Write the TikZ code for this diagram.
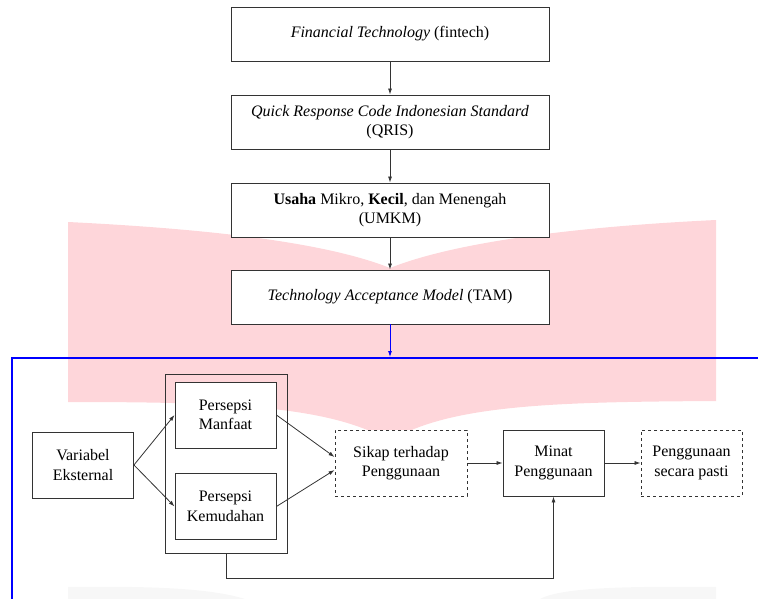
\documentclass[tikz,border=0pt]{standalone}
\usepackage{fontspec}
\setmainfont{Liberation Serif}
\usetikzlibrary{arrows.meta}
\definecolor{wmpink}{RGB}{254,214,218}

\begin{document}
\begin{tikzpicture}[x=1pt,y=-1pt,
    font=\fontsize{16}{19.5}\selectfont,
    >={Latex[length=6pt,width=4pt]},
    box/.style={rectangle,draw=black!80,fill=white,line width=0.9pt,align=center,inner sep=0pt},
    bigbox/.style={box,minimum width=318pt,minimum height=54pt},
    smallbox/.style={box,minimum width=101pt,minimum height=66pt},
    dashbox/.style={smallbox,dashed},
    link/.style={->,draw=black!80,line width=0.8pt}]
    \useasboundingbox (0,0) rectangle (758,599);
    % watermark behind the diagram
    \fill[wmpink] (68,222) .. controls (190,228) and (320,240) .. (390,268) .. controls (460,240) and (590,226) .. (716,220) -- (716,401) .. controls (560,402) and (450,404) .. (390,441) .. controls (330,406) and (230,402) .. (68,402) -- cycle;
    \fill[black!3] (68,599) -- (68,587) .. controls (150,586) and (210,588) .. (245,599) -- cycle;
    \fill[black!3] (716,599) -- (716,587) .. controls (620,586) and (560,588) .. (540,599) -- cycle;
    \draw[blue,line width=2pt] (758,357.5) -- (11.5,357.5) -- (11.5,599);
    % top chain
    \node[bigbox] (fintech) at (390,34) {\textit{Financial Technology} (fintech)};
    \node[bigbox] (qris) at (390,122) {\textit{Quick Response Code Indonesian Standard}\\(QRIS)};
    \node[bigbox] (umkm) at (390,210) {\textbf{Usaha} Mikro, \textbf{Kecil}, dan Menengah\\(UMKM)};
    \node[bigbox] (tam) at (390,297) {\textit{Technology Acceptance Model} (TAM)};
    \coordinate (garis) at (390,357);
    \draw[link] (fintech) -- (qris);
    \draw[link] (qris) -- (umkm);
    \draw[link] (umkm) -- (tam);
    \draw[link,draw=blue] (tam) -- (garis);
    % TAM model
    \node[rectangle,draw=black!80,line width=0.9pt,minimum width=122pt,minimum height=179pt] (persepsi) at (226,463.5) {};
    \node[smallbox] (eksternal) at (83,465) {Variabel\\Eksternal};
    \node[smallbox] (manfaat) at (225.5,415) {Persepsi\\Manfaat};
    \node[smallbox] (kemudahan) at (225.5,506.5) {Persepsi\\Kemudahan};
    \node[dashbox,minimum width=132pt] (sikap) at (401,463) {Sikap terhadap\\Penggunaan};
    \node[smallbox] (minat) at (553.5,463) {Minat\\Penggunaan};
    \node[dashbox] (pasti) at (691.5,463) {Penggunaan\\secara pasti};
    \draw[link] (eksternal.east) -- (manfaat.west);
    \draw[link] (eksternal.east) -- (kemudahan.west);
    \draw[link] (manfaat.east) -- ([yshift=6pt]sikap.west);
    \draw[link] (kemudahan.east) -- ([yshift=-7pt]sikap.west);
    \draw[link] (sikap) -- (minat);
    \draw[link] (minat) -- (pasti);
    \draw[link] (persepsi.south) -- ++(0,25) -| (minat.south);
\end{tikzpicture}
\end{document}
